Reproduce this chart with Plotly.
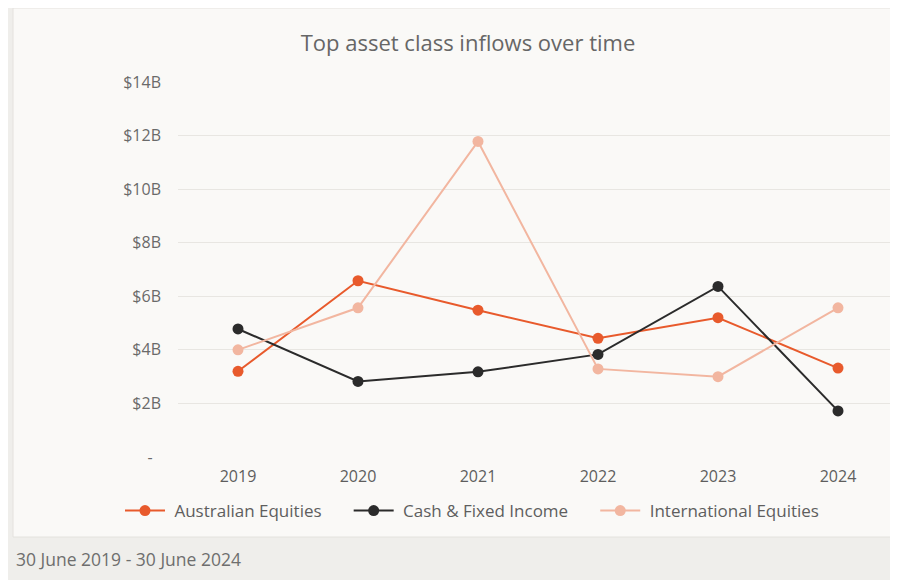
import plotly.graph_objects as go

# Data (values in $B)
years = ["2019", "2020", "2021", "2022", "2023", "2024"]
australian_equities = [3.2, 6.58, 5.48, 4.43, 5.2, 3.32]
cash_fixed_income = [4.78, 2.82, 3.18, 3.83, 6.37, 1.72]
international_equities = [4.0, 5.57, 11.78, 3.29, 3.0, 5.57]

y_tick_vals = [0, 2, 4, 6, 8, 10, 12, 14]
y_tick_text = ["-\u00a0\u00a0", "$2B", "$4B", "$6B", "$8B", "$10B", "$12B", "$14B"]

series = [
    ("Australian Equities", australian_equities, "#E85A2C"),
    ("Cash & Fixed Income", cash_fixed_income, "#2B2B2B"),
    ("International Equities", international_equities, "#F2B6A0"),
]

# page body adds an 8px margin, so the figure is drawn 8px smaller and shifted
OFF = 8
W, H = 898 - OFF, 580 - OFF
L, R, T, B = 178 - OFF, 0, 82 - OFF, 123


# helpers to place decorations using screen pixel positions
def px_x(p):
    return (p - OFF - L) / (W - L - R)


def px_y(p):
    return (H - B - (p - OFF)) / (H - T - B)


fig = go.Figure()
for i, (name, vals, color) in enumerate(series):
    pad = "\u00a0" * 5 if i < len(series) - 1 else ""
    fig.add_trace(go.Scatter(
        x=years, y=vals, name="\u00a0" + name + pad, mode="lines+markers",
        line=dict(color=color, width=2),
        marker=dict(color=color, size=11),
    ))

# card background
fig.add_shape(type="rect", xref="paper", yref="paper", layer="below",
              x0=px_x(13), x1=px_x(893), y0=px_y(537), y1=px_y(8),
              fillcolor="#FAF9F7", line=dict(color="#E4E2DE", width=1))

fig.add_annotation(text="30 June 2019 - 30 June 2024", xref="paper", yref="paper",
                   x=px_x(14), y=px_y(559), xanchor="left", yanchor="middle",
                   showarrow=False, font=dict(size=17.5, color="#6E6E6E"))

fig.update_layout(
    width=W, height=H,
    margin=dict(l=L, r=R, t=T, b=B, autoexpand=False),
    paper_bgcolor="#EFEEEB",
    plot_bgcolor="rgba(0,0,0,0)",
    font=dict(family="Open Sans, sans-serif", color="#6A6A6A"),
    title=dict(text="Top asset class inflows over time", xref="container",
               x=(468 - OFF) / W, xanchor="center", y=1 - (43 - OFF) / H, yanchor="middle",
               font=dict(size=22, color="#666666")),
    showlegend=True,
    legend=dict(orientation="h", x=px_x(120), xanchor="left",
                y=px_y(511), yanchor="middle",
                font=dict(size=17, color="#5E5E5E"),
                bgcolor="rgba(0,0,0,0)", itemwidth=40),
    xaxis=dict(range=[-0.5, 5.5], showgrid=False, zeroline=False, showline=False,
               ticks="", tickfont=dict(size=16, color="#5E5E5E"), ticklabelstandoff=8),
    yaxis=dict(range=[0, 14], tickvals=y_tick_vals, ticktext=y_tick_text,
               showgrid=True, gridcolor="#E8E6E2", gridwidth=1,
               zeroline=False, showline=False, ticks="",
               tickfont=dict(size=16, color="#6A6A6A"), ticklabelstandoff=16),
)

fig.write_html("out.html")
